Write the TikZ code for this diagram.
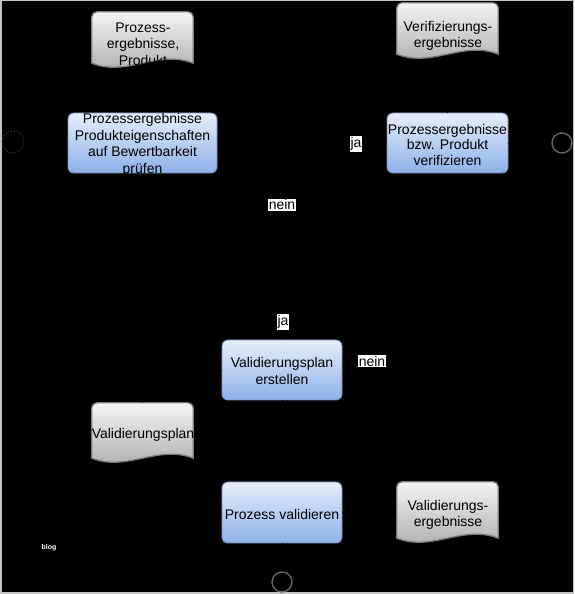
\documentclass[tikz,border=0pt]{standalone}
\usepackage{fontspec}
\setmainfont{Liberation Sans}
\usetikzlibrary{shapes.geometric,arrows.meta,calc}
\definecolor{tasktop}{HTML}{E6EEF9}
\definecolor{taskbot}{HTML}{8DB1EA}
\definecolor{taskborder}{HTML}{7A93BE}
\definecolor{doctop}{HTML}{F4F4F4}
\definecolor{docbot}{HTML}{A9A9A9}
\definecolor{docborder}{HTML}{7A7A7A}
\definecolor{framegray}{HTML}{C4C4C4}
\newcommand{\docshape}[1]{%
  \path[draw=docborder, line width=1.3pt, top color=doctop, bottom color=docbot]
    ($(#1.south west)+(0,12)$) -- ($(#1.north west)+(0,-5)$)
    arc[start angle=180, end angle=90, radius=5pt]
    -- ($(#1.north east)+(-5,0)$)
    arc[start angle=90, end angle=0, radius=5pt]
    -- ($(#1.south east)+(0,12)$)
    .. controls +(-35,14) and +(35,-14) .. ($(#1.south west)+(0,12)$) -- cycle;}
\begin{document}
\begin{tikzpicture}[x=1pt,y=1pt,
  txt/.style={font=\fontsize{14}{16.5}\selectfont, align=center, inner sep=0pt, text=black},
  task/.style={draw=taskborder, line width=0.9pt, rounded corners=6pt, top color=tasktop, bottom color=taskbot, inner sep=0pt},
  docbox/.style={inner sep=0pt, minimum width=101pt},
  gw/.style={diamond, draw=black, minimum size=40pt, inner sep=0pt},
  flow/.style={draw=black, line width=0.8pt, -{Stealth[length=6pt]}},
  assoc/.style={draw=black, line width=0.8pt, dotted, -{Stealth[length=6pt]}},
  lbl/.style={fill=white, text=black, font=\fontsize{14}{16}\selectfont, inner sep=1pt},
  evt/.style={circle, minimum size=20pt, inner sep=0pt}]
\useasboundingbox (0,0) rectangle (574,594);
\fill[black] (0,0) rectangle (574,594);
\draw[framegray, line width=1.5pt] (0.75,0.75) rectangle (573.25,593.25);

% events
\node[evt, draw=gray!55!black, dotted, line width=1pt, minimum size=22pt] (s) at (13,452) {};
\node[evt, draw=gray!80!black, line width=1.4pt] (e1) at (562,451) {};
\node[evt, draw=gray!80!black, line width=1.4pt] (e2) at (282,12) {};

% tasks
\node[task, minimum width=149pt, minimum height=60pt] (t1) at (142.5,451) {};
\node[txt] (t1l) at (142.5,449) {Prozessergebnisse\\Produkteigenschaften\\auf Bewertbarkeit\\prüfen};
\node[task, minimum width=121pt, minimum height=60pt] (t2) at (447.5,451) {};
\node[txt, font=\fontsize{14}{15.5}\selectfont] (t2l) at (447.5,449) {Prozessergebnisse\\bzw. Produkt\\verifizieren};
\node[task, minimum width=120pt, minimum height=60pt] (t3) at (282,224) {};
\node[txt] (t3l) at (282,223) {Validierungsplan\\erstellen};
\node[task, minimum width=120pt, minimum height=61pt] (t4) at (282,81.5) {};
\node[txt] (t4l) at (282,80) {Prozess validieren};

% documents
\node[docbox, minimum height=63pt] (d1) at (142.5,550.5) {};
\docshape{d1}
\node[txt] (d1l) at (143,550) {Prozess-\\ergebnisse,\\Produkt};
\node[docbox, minimum height=63pt] (d2) at (447.5,559.5) {};
\docshape{d2}
\node[txt, font=\fontsize{14}{15.5}\selectfont] (d2l) at (448,558) {Verifizierungs-\\ergebnisse};
\node[docbox, minimum height=67pt] (d3) at (142.5,157.5) {};
\docshape{d3}
\node[txt] (d3l) at (143,159) {Validierungsplan};
\node[docbox, minimum height=68pt] (d4) at (447.5,78) {};
\docshape{d4}
\node[txt, font=\fontsize{14}{16}\selectfont] (d4l) at (448,79) {Validierungs-\\ergebnisse};

% gateways
\node[gw] (g1) at (282,449) {};
\node[gw] (g2) at (282,326) {};
\node[gw] (g3) at (282,162) {};
\coordinate (nr) at (372,233);

% connectors (black on black)
\draw[flow] (s) -- (t1);
\draw[assoc] (d1.south) -- (t1.north);
\draw[flow] (t1.east) -- (g1.west);
\draw[flow] (g1.east) -- (t2.west);
\draw[flow] (t2.east) -- (e1.west);
\draw[assoc] (t2.north) -- (d2.south);
\draw[flow] (g1.south) -- (g2.north);
\draw[flow] (g2.south) -- (t3.north);
\draw[flow] (g2.east) -| (nr) |- (g3.east);
\draw[flow] (t3.south) -- (g3.north);
\draw[flow] (g3.south) -- (t4.north);
\draw[flow] (t4.south) -- (e2.north);
\draw[assoc] (t3.west) -| (d3.north);
\draw[assoc] (d3.south) |- (t4.west);
\draw[assoc] (t4.east) -- (d4.west);

% edge labels
\node[lbl] (lja1) at (356,450) {ja};
\node[lbl] (lnein1) at (282,389) {nein};
\node[lbl] (lja2) at (283,272) {ja};
\node[lbl] (lnein2) at (nr) {nein};

% watermark
\node[text=white, font=\bfseries\fontsize{7}{8}\selectfont, inner sep=0pt] (blog) at (49,46) {blog};
\end{tikzpicture}
\end{document}
